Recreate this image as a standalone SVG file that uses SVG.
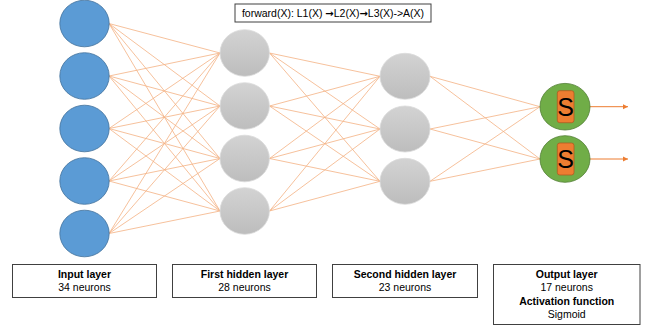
<svg xmlns="http://www.w3.org/2000/svg" width="648" height="331" viewBox="0 0 648 331">
<style>
  .c { stroke: #F4B183; stroke-width: 0.8; fill: none; }
  .out { stroke: #ED7D31; stroke-width: 1; fill: none; marker-end: url(#ah); }
  .in { fill: #5B9BD5; stroke: #41719C; stroke-width: 0.8; }
  .hid { fill: url(#gray); stroke: #DADADA; stroke-width: 0.8; }
  .op { fill: #70AD47; stroke: #507E32; stroke-width: 0.8; }
  .sr { fill: #ED7D31; stroke: #AE5A21; stroke-width: 0.8; }
  .box { fill: #FFFFFF; stroke: #404040; stroke-width: 1; }
  .t { font-family: "Liberation Sans", Arial, sans-serif; font-size: 10.5px; fill: #000; text-anchor: middle; }
  .b { font-weight: bold; }
  .arr { font-family: "DejaVu Sans", sans-serif; font-weight: bold; font-size: 10px; }
  .s { font-family: "Liberation Sans", Arial, sans-serif; font-size: 25px; fill: #000; text-anchor: middle; }
</style>
<defs>
  <linearGradient id="gray" x1="0" y1="0" x2="0" y2="1">
    <stop offset="0" stop-color="#D3D3D3"/>
    <stop offset="1" stop-color="#BDBDBD"/>
  </linearGradient>
  <marker id="ah" markerWidth="6" markerHeight="6" refX="5" refY="3" orient="auto" markerUnits="userSpaceOnUse">
    <path d="M0,0.5 L5,3 L0,5.5 Z" fill="#ED7D31"/>
  </marker>
</defs>

<g id="connectors">
  <line class="c" x1="109" y1="23.5" x2="220" y2="53"/>
  <line class="c" x1="109" y1="23.5" x2="220" y2="106"/>
  <line class="c" x1="109" y1="23.5" x2="220" y2="158.5"/>
  <line class="c" x1="109" y1="23.5" x2="220" y2="211"/>
  <line class="c" x1="109" y1="76" x2="220" y2="53"/>
  <line class="c" x1="109" y1="76" x2="220" y2="106"/>
  <line class="c" x1="109" y1="76" x2="220" y2="158.5"/>
  <line class="c" x1="109" y1="76" x2="220" y2="211"/>
  <line class="c" x1="109" y1="128.5" x2="220" y2="53"/>
  <line class="c" x1="109" y1="128.5" x2="220" y2="106"/>
  <line class="c" x1="109" y1="128.5" x2="220" y2="158.5"/>
  <line class="c" x1="109" y1="128.5" x2="220" y2="211"/>
  <line class="c" x1="109" y1="181" x2="220" y2="53"/>
  <line class="c" x1="109" y1="181" x2="220" y2="106"/>
  <line class="c" x1="109" y1="181" x2="220" y2="158.5"/>
  <line class="c" x1="109" y1="181" x2="220" y2="211"/>
  <line class="c" x1="109" y1="233.5" x2="220" y2="53"/>
  <line class="c" x1="109" y1="233.5" x2="220" y2="106"/>
  <line class="c" x1="109" y1="233.5" x2="220" y2="158.5"/>
  <line class="c" x1="109" y1="233.5" x2="220" y2="211"/>

  <line class="c" x1="269.5" y1="53" x2="380" y2="76.3"/>
  <line class="c" x1="269.5" y1="53" x2="380" y2="129"/>
  <line class="c" x1="269.5" y1="53" x2="380" y2="181.3"/>
  <line class="c" x1="269.5" y1="106" x2="380" y2="76.3"/>
  <line class="c" x1="269.5" y1="106" x2="380" y2="129"/>
  <line class="c" x1="269.5" y1="106" x2="380" y2="181.3"/>
  <line class="c" x1="269.5" y1="158.5" x2="380" y2="76.3"/>
  <line class="c" x1="269.5" y1="158.5" x2="380" y2="129"/>
  <line class="c" x1="269.5" y1="158.5" x2="380" y2="181.3"/>
  <line class="c" x1="269.5" y1="211" x2="380" y2="76.3"/>
  <line class="c" x1="269.5" y1="211" x2="380" y2="129"/>
  <line class="c" x1="269.5" y1="211" x2="380" y2="181.3"/>

  <line class="c" x1="430" y1="76.3" x2="540" y2="106.7"/>
  <line class="c" x1="430" y1="76.3" x2="540" y2="159"/>
  <line class="c" x1="430" y1="129" x2="540" y2="106.7"/>
  <line class="c" x1="430" y1="129" x2="540" y2="159"/>
  <line class="c" x1="430" y1="181.3" x2="540" y2="106.7"/>
  <line class="c" x1="430" y1="181.3" x2="540" y2="159"/>

  <line class="out" x1="590" y1="106.7" x2="628" y2="106.7"/>
  <line class="out" x1="590" y1="159" x2="628" y2="159"/>
</g>

<g id="input-1"><ellipse class="in" cx="84.5" cy="23.5" rx="24.7" ry="23.3"/></g>
<g id="input-2"><ellipse class="in" cx="84.5" cy="76" rx="24.7" ry="23.3"/></g>
<g id="input-3"><ellipse class="in" cx="84.5" cy="128.5" rx="24.7" ry="23.3"/></g>
<g id="input-4"><ellipse class="in" cx="84.5" cy="181" rx="24.7" ry="23.3"/></g>
<g id="input-5"><ellipse class="in" cx="84.5" cy="233.5" rx="24.7" ry="23.3"/></g>

<g id="hidden1-1"><ellipse class="hid" cx="244.7" cy="53" rx="24.7" ry="23.3"/></g>
<g id="hidden1-2"><ellipse class="hid" cx="244.7" cy="106" rx="24.7" ry="23.3"/></g>
<g id="hidden1-3"><ellipse class="hid" cx="244.7" cy="158.5" rx="24.7" ry="23.3"/></g>
<g id="hidden1-4"><ellipse class="hid" cx="244.7" cy="211" rx="24.7" ry="23.3"/></g>

<g id="hidden2-1"><ellipse class="hid" cx="405" cy="76.3" rx="25" ry="23"/></g>
<g id="hidden2-2"><ellipse class="hid" cx="405" cy="129" rx="25" ry="23"/></g>
<g id="hidden2-3"><ellipse class="hid" cx="405" cy="181.3" rx="25" ry="23"/></g>

<g id="output-1">
  <ellipse class="op" cx="565" cy="106.7" rx="25" ry="23.3"/>
  <rect class="sr" x="557.3" y="90.7" width="16.7" height="32" rx="2.5"/>
  <text class="s" x="565.7" y="115.5">S</text>
</g>
<g id="output-2">
  <ellipse class="op" cx="565" cy="159" rx="25" ry="23.3"/>
  <rect class="sr" x="557.3" y="143" width="16.7" height="32" rx="2.5"/>
  <text class="s" x="565.7" y="167.8">S</text>
</g>

<g id="forward-label">
  <rect class="box" x="235" y="4" width="196" height="18"/>
  <text class="t" x="333" y="17">forward(X): L1(X) <tspan class="arr">→</tspan>L2(X)<tspan class="arr">→</tspan>L3(X)-&gt;A(X)</text>
</g>

<g id="label-input">
  <rect class="box" x="12.5" y="264.5" width="144" height="33"/>
  <text class="t b" x="84.5" y="277.5">Input layer</text>
  <text class="t" x="84.5" y="291">34 neurons</text>
</g>
<g id="label-hidden1">
  <rect class="box" x="172.5" y="264.5" width="144" height="33"/>
  <text class="t b" x="244.5" y="277.5">First hidden layer</text>
  <text class="t" x="244.5" y="291">28 neurons</text>
</g>
<g id="label-hidden2">
  <rect class="box" x="332.5" y="264.5" width="145" height="33"/>
  <text class="t b" x="405" y="277.5">Second hidden layer</text>
  <text class="t" x="405" y="291">23 neurons</text>
</g>
<g id="label-output">
  <rect class="box" x="493.5" y="264.5" width="146.5" height="60"/>
  <text class="t b" x="566.7" y="277.5">Output layer</text>
  <text class="t" x="566.7" y="291">17 neurons</text>
  <text class="t b" x="566.7" y="304.5">Activation function</text>
  <text class="t" x="566.7" y="318">Sigmoid</text>
</g>
</svg>
